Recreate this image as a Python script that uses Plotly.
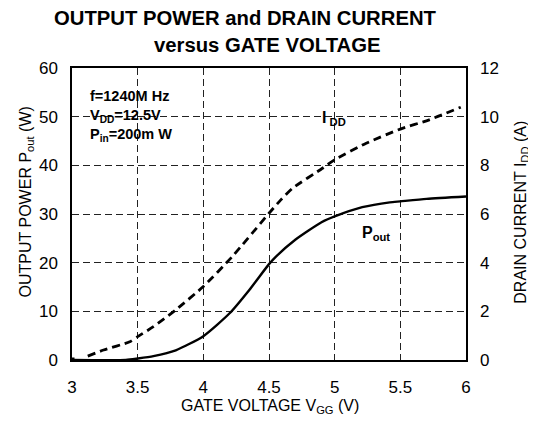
import plotly.graph_objects as go

vgg_pout = [3.0, 3.41, 3.5, 3.62, 3.79, 4.0, 4.2, 4.35, 4.5, 4.54, 4.70, 4.90, 5.0, 5.21, 5.42, 5.5, 5.70, 6.0]
pout = [0.0, 0.0, 0.3, 0.8, 2.0, 4.9, 9.6, 14.4, 19.7, 20.9, 24.7, 28.3, 29.5, 31.4, 32.4, 32.6, 33.1, 33.6]

vgg_idd = [3.12, 3.24, 3.44, 3.5, 3.62, 3.79, 4.0, 4.22, 4.5, 4.59, 4.68, 4.91, 5.0, 5.24, 5.5, 5.72, 5.96]
idd = [0.16, 0.41, 0.75, 0.96, 1.37, 2.06, 3.02, 4.25, 6.03, 6.58, 7.06, 7.89, 8.23, 8.91, 9.49, 9.87, 10.39]

x_ticks = [3, 3.5, 4, 4.5, 5, 5.5, 6]
y1_ticks = [0, 10, 20, 30, 40, 50, 60]
y2_ticks = [0, 2, 4, 6, 8, 10, 12]

font = "Liberation Sans, Arial, sans-serif"

fig = go.Figure()
fig.add_trace(go.Scatter(x=vgg_pout, y=pout, mode="lines",
                         line=dict(color="black", width=2.4, shape="spline", smoothing=0.6),
                         yaxis="y", showlegend=False))
fig.add_trace(go.Scatter(x=vgg_idd, y=idd, mode="lines",
                         line=dict(color="black", width=2.8, dash="8px,5px", shape="spline", smoothing=0.6),
                         yaxis="y2", showlegend=False))
fig.add_trace(go.Scatter(x=[3.0], y=[0.0], mode="markers",
                         marker=dict(symbol="square", size=5, color="black"), yaxis="y", showlegend=False))

grid = dict(showgrid=True, gridcolor="#222222", gridwidth=1, griddash="7px,4px")

fig.update_layout(
    width=528, height=414,
    margin=dict(l=64, r=70, t=60, b=62),
    paper_bgcolor="white", plot_bgcolor="white",
    font=dict(family=font, size=17, color="black"),
    xaxis=dict(range=[3, 6], tickvals=x_ticks, ticktext=[str(v) for v in x_ticks],
               showline=True, linecolor="black", linewidth=1.5, mirror=True, ticks="", zeroline=False,
               ticklabelstandoff=11, automargin=False, tickfont=dict(size=17), **grid),
    yaxis=dict(range=[0, 60], tickvals=y1_ticks, showline=True, linecolor="black", linewidth=1.5, mirror=True,
               ticks="", zeroline=False, ticklabelstandoff=9, automargin=False, tickfont=dict(size=17), **grid),
    yaxis2=dict(range=[0, 12], tickvals=y2_ticks, overlaying="y", side="right", showgrid=False, zeroline=False,
                ticks="", showline=False, ticklabelstandoff=13, automargin=False, tickfont=dict(size=17)),
)

paper_texts = [
    dict(x=0.4416, y=1.171, text="<b>OUTPUT POWER and DRAIN CURRENT</b>", size=20.3, angle=0),
    dict(x=0.495, y=1.079, text="<b>versus GATE VOLTAGE</b>", size=20.3, angle=0),
    dict(x=0.5025, y=-0.16, text="GATE VOLTAGE V<sub>GG</sub> (V)", size=16, angle=0),
    dict(x=-0.1168, y=0.543, text="OUTPUT POWER P<sub>out</sub> (W)", size=16, angle=-90),
    dict(x=1.14, y=0.505, text="DRAIN CURRENT I<sub>DD</sub> (A)", size=16, angle=-90),
]
for a in paper_texts:
    fig.add_annotation(x=a["x"], y=a["y"], xref="paper", yref="paper", text=a["text"], textangle=a["angle"],
                       showarrow=False, font=dict(size=a["size"], family=font), xanchor="center", yanchor="middle")

data_texts = [
    dict(x=3.12, y=54.3, text="<b>f=1240M Hz</b>", size=14.5),
    dict(x=3.12, y=50.1, text="<b>V<sub>DD</sub>=12.5V</b>", size=14.5),
    dict(x=3.12, y=46.2, text="<b>P<sub>in</sub>=200m W</b>", size=14.5),
    dict(x=4.89, y=49.6, text="<b>I<sub> DD</sub></b>", size=16),
    dict(x=5.19, y=25.9, text="<b>P<sub>out</sub></b>", size=16),
]
for a in data_texts:
    fig.add_annotation(x=a["x"], y=a["y"], xref="x", yref="y", text=a["text"], showarrow=False,
                       font=dict(size=a["size"], family=font), xanchor="left", yanchor="middle")

fig.write_html("out.html")
